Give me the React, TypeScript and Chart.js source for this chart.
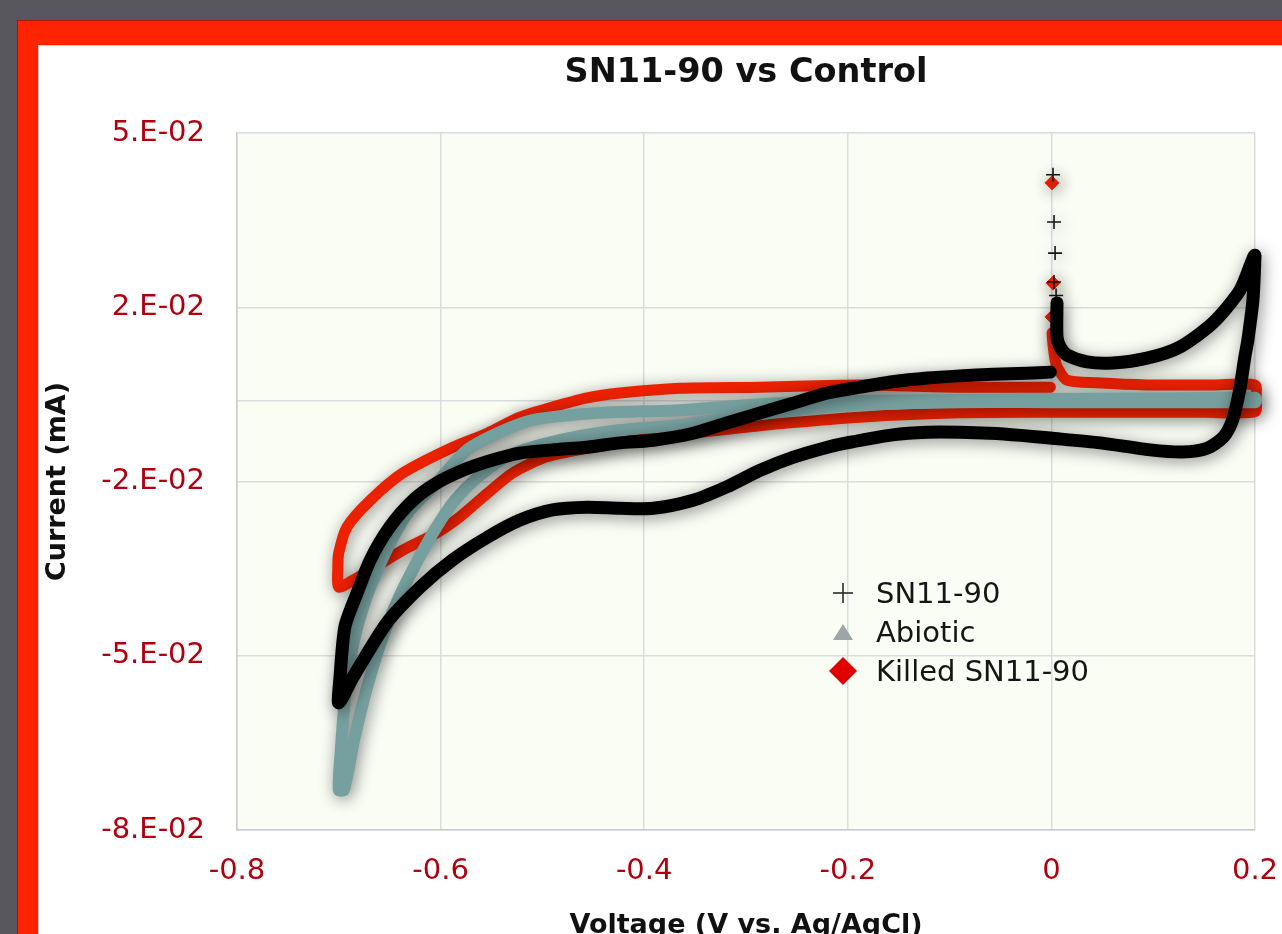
import React, { useEffect, useRef } from "react";
import { Chart, registerables } from "chart.js";

Chart.register(...registerables);

// ---------- Data ----------
const chartTitle = "SN11-90 vs Control";
const xAxisTitle = "Voltage (V vs. Ag/AgCl)";
const yAxisTitle = "Current (mA)";
const seriesNames = ["SN11-90", "Abiotic", "Killed SN11-90"];

const xTickValues = [-0.8, -0.6, -0.4, -0.2, 0, 0.2];
const xTickLabels = ["-0.8", "-0.6", "-0.4", "-0.2", "0", "0.2"];
const yTickValues = [-0.08, -0.0475, -0.015, 0, 0.0175, 0.05];
const yTickLabels = ["-8.E-02", "-5.E-02", "-2.E-02", "", "2.E-02", "5.E-02"];

// SN11-90 : sparse initial spike markers at 0 V
const snSpikeX = [0.0016, 0.0026, 0.0036, 0.0026, 0.0046];
const snSpikeY = [0.0422, 0.0334, 0.0276, 0.0222, 0.0197];
// SN11-90 : dense voltammogram
const snX = [
  0.0055, 0.0055, 0.0085, 0.0153, 0.035, 0.0605, 0.0939, 0.1263, 0.1588, 0.1853, 0.2,
  0.198, 0.193, 0.19, 0.185, 0.178, 0.169, 0.153, 0.129, 0.097, 0.048, -0.001, -0.03,
  -0.06, -0.09, -0.122, -0.156, -0.201, -0.22, -0.254, -0.286, -0.319, -0.352, -0.391,
  -0.424, -0.456, -0.49, -0.522, -0.554, -0.588, -0.62, -0.653, -0.686, -0.7,
  -0.699, -0.694, -0.682, -0.669, -0.65, -0.627, -0.604, -0.578, -0.549, -0.522, -0.49,
  -0.456, -0.424, -0.391, -0.352, -0.319, -0.286, -0.254, -0.22, -0.188, -0.156, -0.122,
  -0.09, -0.057, -0.024, -0.001,
];
const snY = [
  0.0183, 0.012, 0.0101, 0.0086, 0.0073, 0.0071, 0.008, 0.0101, 0.0146, 0.0207, 0.0272,
  0.0189, 0.0114, 0.0082, 0.0021, -0.0035, -0.0067, -0.0088, -0.0095, -0.0091, -0.0078,
  -0.0069, -0.0064, -0.006, -0.0058, -0.0058, -0.0063, -0.0078, -0.0086, -0.0105, -0.0129,
  -0.016, -0.0185, -0.02, -0.02, -0.0198, -0.0203, -0.0222, -0.0254, -0.0296, -0.0347,
  -0.0414, -0.0515, -0.0563,
  -0.052, -0.0421, -0.0358, -0.0296, -0.0235, -0.0185, -0.0153, -0.0129, -0.011, -0.0097,
  -0.0091, -0.0086, -0.0078, -0.0073, -0.006, -0.0041, -0.0022, -0.0004, 0.0015, 0.0026,
  0.0036, 0.0043, 0.0047, 0.005, 0.0052, 0.0054,
];

// Abiotic
const abX = [
  -0.001, 0.1, 0.2, 0.201, 0.2, 0.1, -0.001, -0.09, -0.188, -0.254, -0.319, -0.365, -0.424,
  -0.483, -0.532, -0.561, -0.586, -0.606, -0.625, -0.642, -0.658, -0.673, -0.685, -0.695,
  -0.7, -0.698, -0.694, -0.687, -0.677, -0.664, -0.648, -0.63, -0.606, -0.574, -0.542,
  -0.509, -0.443, -0.365, -0.286, -0.188, -0.09, -0.001,
];
const abY = [
  0.0004, 0.0005, 0.0006, 0.0002, -0.0002, -0.0002, -0.0002, -0.0002, -0.0007, -0.0017,
  -0.0032, -0.0045, -0.0054, -0.0073, -0.0101, -0.0138, -0.0185, -0.0241, -0.0306, -0.0371,
  -0.0446, -0.0539, -0.0632, -0.0725, -0.0725, -0.0651, -0.0558, -0.0464, -0.039, -0.0324,
  -0.0259, -0.0203, -0.0157, -0.0091, -0.0058, -0.0035, -0.0022, -0.0017, -0.0006, 0.0,
  0.0002, 0.0004,
];

// Killed SN11-90 : sparse spike markers
const kSpikeX = [0.0006, 0.0016, 0.0006];
const kSpikeY = [0.0407, 0.022, 0.0157];
// Killed SN11-90 : dense voltammogram
const kX = [
  0.0006, 0.0016, 0.0036, 0.0055, 0.0153, 0.0448, 0.0939, 0.1588, 0.2, 0.201, 0.2, 0.15,
  0.097, -0.001, -0.09, -0.188, -0.26, -0.296, -0.345, -0.394, -0.443, -0.4955, -0.529,
  -0.554, -0.581, -0.604, -0.637, -0.669, -0.686, -0.7, -0.701, -0.7, -0.692, -0.669,
  -0.637, -0.588, -0.554, -0.522, -0.49, -0.456, -0.424, -0.365, -0.286, -0.188, -0.09,
  -0.001,
];
const kY = [
  0.0127, 0.0105, 0.0077, 0.0064, 0.0039, 0.0034, 0.003, 0.003, 0.003, 0.0005, -0.002,
  -0.0021, -0.0021, -0.0021, -0.0022, -0.003, -0.0041, -0.0048, -0.0058, -0.0069, -0.0084,
  -0.0104, -0.0134, -0.0172, -0.0216, -0.0246, -0.0278, -0.0315, -0.0334, -0.0347, -0.0311,
  -0.0283, -0.0235, -0.0185, -0.0134, -0.0086, -0.006, -0.003, -0.0011, 0.0006, 0.0015,
  0.0024, 0.0026, 0.003, 0.0026, 0.0026,
];

// ---------- Helpers ----------
const zip = (xs: number[], ys: number[]) => xs.map((x, i) => ({ x, y: ys[i] }));
const FONT = "'DejaVu Sans', 'Noto Sans', sans-serif";
const TICK_COLOR = "#b0000f";

const plotBgPlugin = {
  id: "plotBg",
  beforeDraw(chart: any) {
    const { ctx, chartArea } = chart;
    if (!chartArea) return;
    ctx.save();
    ctx.fillStyle = "#f9fdf4";
    ctx.fillRect(chartArea.left, chartArea.top, chartArea.right - chartArea.left, chartArea.bottom - chartArea.top);
    ctx.restore();
  },
};

const shadowPlugin = {
  id: "traceShadow",
  beforeDatasetsDraw(chart: any) {
    const c = chart.ctx;
    c.save();
    c.shadowColor = "rgba(0,0,0,0.45)";
    c.shadowBlur = 16;
    c.shadowOffsetX = 2;
    c.shadowOffsetY = 3;
  },
  afterDatasetsDraw(chart: any) {
    chart.ctx.restore();
  },
};

function labelFor(values: number[], labels: string[], v: number) {
  const i = values.findIndex((t) => Math.abs(t - v) < 1e-9);
  return i >= 0 ? labels[i] : "";
}

function CrossIcon() {
  return (
    <svg width="22" height="22" viewBox="0 0 22 22">
      <line x1="11" y1="1" x2="11" y2="21" stroke="#2a2a2a" strokeWidth="1.6" />
      <line x1="1" y1="11" x2="21" y2="11" stroke="#2a2a2a" strokeWidth="1.6" />
    </svg>
  );
}
function TriangleIcon() {
  return (
    <svg width="22" height="18" viewBox="0 0 22 18">
      <polygon points="11,1 21,17 1,17" fill="#9ca5a8" />
    </svg>
  );
}
function DiamondIcon() {
  return (
    <svg width="28" height="28" viewBox="0 0 28 28">
      <polygon points="14,0 28,14 14,28 0,14" fill="#e10000" />
    </svg>
  );
}

export default function App() {
  const canvasRef = useRef<HTMLCanvasElement | null>(null);

  useEffect(() => {
    if (!canvasRef.current) return;
    const common = {
      showLine: true,
      pointRadius: 0,
      pointHoverRadius: 0,
      tension: 0.25,
      borderCapStyle: "round" as const,
      borderJoinStyle: "round" as const,
      clip: false as any,
      fill: false,
    };
    const chart = new Chart(canvasRef.current, {
      type: "scatter",
      data: {
        datasets: [
          { ...common, label: seriesNames[0], data: zip(snX, snY), borderColor: "#000000", backgroundColor: "#000000", borderWidth: 13 },
          {
            label: seriesNames[0] + " spike",
            data: zip(snSpikeX, snSpikeY),
            showLine: false,
            pointStyle: "cross",
            pointRadius: 7,
            borderColor: "#151515",
            borderWidth: 1.6,
            clip: false as any,
          },
          { ...common, label: seriesNames[1], data: zip(abX, abY), borderColor: "#76a09f", backgroundColor: "#76a09f", borderWidth: 12 },
          { ...common, label: seriesNames[2], data: zip(kX, kY), borderColor: "#eb2100", backgroundColor: "#eb2100", borderWidth: 11 },
          {
            label: seriesNames[2] + " spike",
            data: zip(kSpikeX, kSpikeY),
            showLine: false,
            pointStyle: "rectRot",
            pointRadius: 7,
            backgroundColor: "#eb2100",
            borderColor: "#eb2100",
            borderWidth: 1,
            clip: false as any,
          },
        ],
      },
      options: {
        responsive: false,
        animation: false,
        events: [],
        layout: { padding: { left: 0, right: 27, top: 0, bottom: 0 } },
        plugins: {
          legend: { display: false },
          tooltip: { enabled: false },
          title: {
            display: true,
            text: chartTitle,
            fullSize: false,
            color: "#111111",
            font: { family: FONT, size: 33.5, weight: "bold" },
            padding: { top: 8, bottom: 39.8 },
          },
        },
        scales: {
          x: {
            type: "linear",
            min: -0.8,
            max: 0.2,
            afterBuildTicks: (s: any) => {
              s.ticks = xTickValues.map((v) => ({ value: v }));
            },
            afterFit: (s: any) => {
              s.height = 115;
              s.paddingLeft = 25;
              s.paddingRight = 24;
            },
            ticks: {
              autoSkip: false,
              maxRotation: 0,
              color: TICK_COLOR,
              font: { family: FONT, size: 29 },
              padding: 24,
              callback: (v: any) => labelFor(xTickValues, xTickLabels, Number(v)),
            },
            grid: { color: "#dcdcdc", lineWidth: 1.5, drawTicks: false },
            border: { color: "#cccccc", width: 1.5 },
            title: {
              display: true,
              text: xAxisTitle,
              color: "#111111",
              font: { family: FONT, size: 27, weight: "bold" },
              padding: { top: 0, bottom: 3 },
            },
          },
          y: {
            type: "linear",
            min: -0.08,
            max: 0.05,
            afterBuildTicks: (s: any) => {
              s.ticks = yTickValues.map((v) => ({ value: v }));
            },
            afterFit: (s: any) => {
              s.width = 199;
            },
            ticks: {
              autoSkip: false,
              color: TICK_COLOR,
              font: { family: FONT, size: 29 },
              padding: 32,
              callback: (v: any) => labelFor(yTickValues, yTickLabels, Number(v)),
            },
            grid: { color: "#dcdcdc", lineWidth: 1.5, drawTicks: false },
            border: { color: "#cccccc", width: 1.5 },
            title: {
              display: true,
              text: yAxisTitle,
              color: "#111111",
              font: { family: FONT, size: 27, weight: "bold" },
              padding: { top: 4, bottom: 0 },
            },
          },
        },
      } as any,
      plugins: [plotBgPlugin, shadowPlugin],
    });
    return () => chart.destroy();
  }, []);

  const legendRows = [
    { name: seriesNames[0], icon: <CrossIcon /> },
    { name: seriesNames[1], icon: <TriangleIcon /> },
    { name: seriesNames[2], icon: <DiamondIcon /> },
  ];

  return (
    <div
      style={{
        position: "fixed",
        left: 0,
        top: 0,
        width: 1282,
        height: 934,
        overflow: "hidden",
        background: "#57565c",
      }}
    >
      <div
        style={{
          position: "absolute",
          left: 17,
          top: 20,
          width: 1400,
          height: 1000,
          background: "#ff2400",
          borderLeft: "1px solid #a81800",
          borderTop: "1px solid #a81800",
        }}
      />
      <div
        style={{
          position: "absolute",
          left: 38,
          top: 45,
          width: 1400,
          height: 1000,
          background: "#ffffff",
          borderLeft: "1px solid #c9c9c9",
          borderTop: "1px solid #d5d5d5",
        }}
      />
      <canvas
        ref={canvasRef}
        width={1244}
        height={900}
        style={{ position: "absolute", left: 38, top: 45, width: 1244, height: 900 }}
      />
      <div
        style={{
          position: "absolute",
          left: 826,
          top: 573,
          fontFamily: FONT,
          fontSize: 29,
          color: "#151515",
        }}
      >
        {legendRows.map((r) => (
          <div key={r.name} style={{ display: "flex", alignItems: "center", height: 39, whiteSpace: "nowrap" }}>
            <div style={{ width: 34, display: "flex", justifyContent: "center", alignItems: "center", marginRight: 16 }}>
              {r.icon}
            </div>
            <span>{r.name}</span>
          </div>
        ))}
      </div>
    </div>
  );
}
